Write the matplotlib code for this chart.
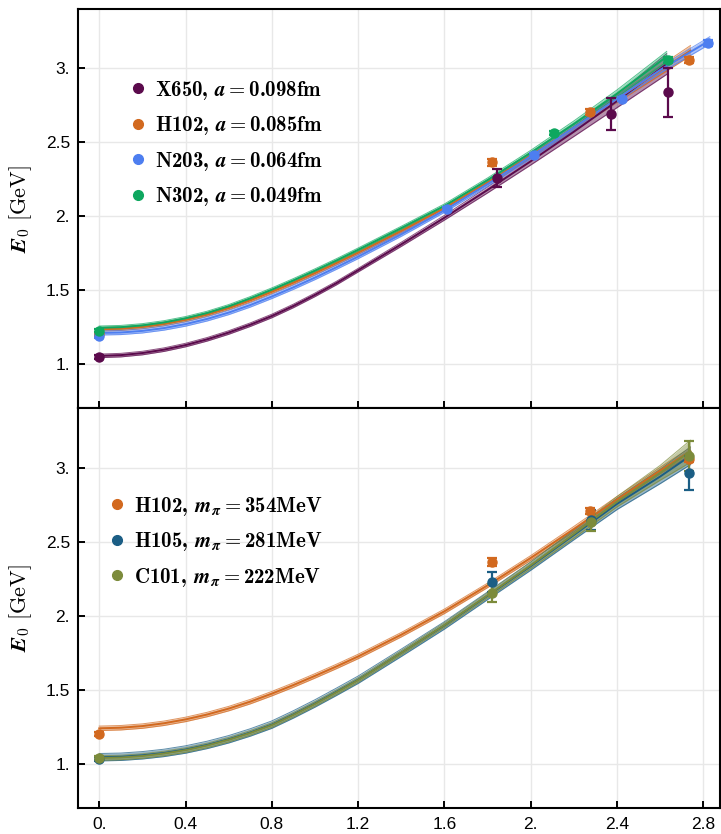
import matplotlib
matplotlib.use("Agg")
import matplotlib.pyplot as plt
from matplotlib.lines import Line2D
import numpy as np

plt.rcParams["font.family"] = ["Liberation Sans", "DejaVu Sans"]
plt.rcParams["mathtext.fontset"] = "cm"

# ---- axis ticks / labels ----
x_ticks = [0, 0.4, 0.8, 1.2, 1.6, 2.0, 2.4, 2.8]
x_tick_labels = ["0.", "0.4", "0.8", "1.2", "1.6", "2.", "2.4", "2.8"]
y_ticks = [1.0, 1.5, 2.0, 2.5, 3.0]
y_tick_labels = ["1.", "1.5", "2.", "2.5", "3."]

# ---- top panel: lattice spacing ----
top_labels = [r"X650, $\boldsymbol{a}=$0.098fm",
              r"H102, $\boldsymbol{a}=$0.085fm",
              r"N203, $\boldsymbol{a}=$0.064fm",
              r"N302, $\boldsymbol{a}=$0.049fm"]
top_colors = ["#5b0a4c", "#d2691f", "#4d7ef0", "#0ea75f"]

x650_x = [0.0, 1.845, 2.371, 2.635]
x650_y = [1.046, 2.26, 2.69, 2.84]
x650_err = [0.012, 0.06, 0.107, 0.166]
h102_x = [0.0, 1.822, 2.275, 2.732]
h102_y = [1.203, 2.364, 2.708, 3.056]
h102_err = [0.015, 0.025, 0.02, 0.02]
n203_x = [0.0, 1.614, 2.017, 2.422, 2.823]
n203_y = [1.19, 2.05, 2.416, 2.793, 3.175]
n203_err = [0.012, 0.01, 0.012, 0.015, 0.02]
n302_x = [0.0, 2.108, 2.635]
n302_y = [1.225, 2.562, 3.06]
n302_err = [0.01, 0.015, 0.02]

# fit bands (centre and half width)
fine_x = [0.0, 0.1, 0.2, 0.3, 0.4, 0.5, 0.6, 0.7, 0.8, 0.9, 1.0, 1.1, 1.2, 1.4, 1.6, 1.8, 2.0, 2.2, 2.4]

x650_fit_x = fine_x + [2.63]
x650_fit_y = [1.055, 1.060, 1.074, 1.097, 1.128, 1.167, 1.213, 1.266, 1.325, 1.393, 1.468, 1.548,
              1.635, 1.81, 1.99, 2.178, 2.372, 2.572, 2.78, 3.03]
x650_fit_w = [0.012] * 13 + [0.014, 0.016, 0.02, 0.025, 0.032, 0.045, 0.07]
h102_fit_x = fine_x + [2.74]
h102_fit_y = [1.235, 1.239, 1.251, 1.271, 1.299, 1.335, 1.379, 1.431, 1.489, 1.55, 1.615, 1.683,
              1.753, 1.90, 2.055, 2.228, 2.41, 2.60, 2.795, 3.12]
h102_fit_w = [0.012] * 13 + [0.012, 0.013, 0.014, 0.016, 0.02, 0.025, 0.035]
n203_fit_x = fine_x + [2.6, 2.83]
n203_fit_y = [1.21, 1.213, 1.224, 1.243, 1.27, 1.305, 1.348, 1.399, 1.457, 1.519, 1.585, 1.655,
              1.727, 1.878, 2.04, 2.218, 2.405, 2.6, 2.795, 2.99, 3.19]
n203_fit_w = [0.014] * 13 + [0.014, 0.014, 0.015, 0.016, 0.018, 0.02, 0.022, 0.025]
n302_fit_x = fine_x + [2.63]
n302_fit_y = [1.245, 1.249, 1.261, 1.281, 1.309, 1.345, 1.39, 1.444, 1.503, 1.566, 1.632, 1.701,
              1.773, 1.92, 2.07, 2.245, 2.43, 2.625, 2.83, 3.08]
n302_fit_w = [0.012] * 13 + [0.012, 0.013, 0.014, 0.016, 0.02, 0.025, 0.035]

# ---- bottom panel: pion mass ----
bot_labels = [r"H102, $\boldsymbol{m}_{\boldsymbol{\pi}}=$354MeV",
              r"H105, $\boldsymbol{m}_{\boldsymbol{\pi}}=$281MeV",
              r"C101, $\boldsymbol{m}_{\boldsymbol{\pi}}=$222MeV"]
bot_colors = ["#d2691f", "#1b5e85", "#7c8b3b"]

h105_x = [0.0, 1.822, 2.278, 2.732]
h105_y = [1.032, 2.228, 2.647, 2.962]
h105_err = [0.015, 0.065, 0.065, 0.115]
c101_x = [0.0, 1.822, 2.278, 2.732]
c101_y = [1.04, 2.153, 2.63, 3.079]
c101_err = [0.012, 0.06, 0.06, 0.10]

h102b_fit_x = fine_x + [2.6, 2.74]
h102b_fit_y = [1.24, 1.244, 1.255, 1.274, 1.30, 1.333, 1.373, 1.42, 1.474, 1.532, 1.594, 1.658,
               1.725, 1.872, 2.03, 2.205, 2.39, 2.585, 2.785, 2.98, 3.11]
h102b_fit_w = [0.015] * 13 + [0.015, 0.015, 0.015, 0.016, 0.018, 0.02, 0.022, 0.025]
h105_fit_x = fine_x + [2.6, 2.74]
h105_fit_y = [1.045, 1.048, 1.058, 1.074, 1.097, 1.128, 1.166, 1.212, 1.265, 1.334, 1.408, 1.487,
              1.568, 1.75, 1.935, 2.135, 2.335, 2.545, 2.755, 2.94, 3.08]
h105_fit_w = [0.025] * 13 + [0.025, 0.025, 0.026, 0.028, 0.032, 0.038, 0.048, 0.06]
c101_fit_x = fine_x + [2.6, 2.74]
c101_fit_y = [1.04, 1.043, 1.053, 1.07, 1.093, 1.124, 1.163, 1.209, 1.262, 1.331, 1.405, 1.484,
              1.566, 1.75, 1.937, 2.138, 2.34, 2.552, 2.77, 2.965, 3.11]
c101_fit_w = [0.015] * 13 + [0.015, 0.016, 0.018, 0.022, 0.028, 0.035, 0.05, 0.075]

XLIM = (-0.097, 2.875)
YLIM = (0.70, 3.40)


def draw_band(ax, fx, fy, fw, color):
    fx = np.asarray(fx)
    fy = np.asarray(fy)
    fw = np.asarray(fw)
    ax.fill_between(fx, fy - fw, fy + fw, color=color, alpha=0.45, lw=0, zorder=2)
    ax.plot(fx, fy - fw, color=color, lw=0.7, alpha=0.7, zorder=2)
    ax.plot(fx, fy + fw, color=color, lw=0.7, alpha=0.7, zorder=2)
    ax.plot(fx, fy, color=color, lw=1.4, zorder=3)


def draw_points(ax, x, y, err, color):
    ax.errorbar(x, y, yerr=err, fmt="o", color=color, ms=6.5, elinewidth=1.6,
                capsize=3.5, capthick=1.6, zorder=4)


def style_axis(ax):
    ax.set_xlim(*XLIM)
    ax.set_ylim(*YLIM)
    ax.set_xticks(x_ticks)
    ax.set_yticks(y_ticks)
    ax.set_yticklabels(y_tick_labels)
    ax.grid(True, color="#e8e8e8", lw=1.0, zorder=0)
    ax.set_axisbelow(True)
    ax.tick_params(direction="in", length=5, width=1.4, labelsize=12.5, pad=6,
                   top=False, right=False)
    for s in ax.spines.values():
        s.set_linewidth(1.5)
    ax.set_ylabel(r"$\boldsymbol{E}_0\ [\mathrm{GeV}]$", fontsize=16)
    ax.yaxis.set_label_coords(-0.069, 0.5)


fig = plt.figure(figsize=(7.21, 8.34), dpi=100)
ax1 = fig.add_axes([0.1086, 0.5104, 0.8894, 0.4784])
ax2 = fig.add_axes([0.1086, 0.0308, 0.8894, 0.4796])

leg_kw = dict(loc="upper left", frameon=False, prop={"family": "cmb10", "size": 15},
              handlelength=0.8, handletextpad=0.42, labelspacing=0.6, borderpad=0,
              borderaxespad=0)

# top panel
top_fits = [(x650_fit_x, x650_fit_y, x650_fit_w), (h102_fit_x, h102_fit_y, h102_fit_w),
            (n203_fit_x, n203_fit_y, n203_fit_w), (n302_fit_x, n302_fit_y, n302_fit_w)]
top_pts = [(x650_x, x650_y, x650_err), (h102_x, h102_y, h102_err),
           (n203_x, n203_y, n203_err), (n302_x, n302_y, n302_err)]
for (fx, fy, fw), c in zip(top_fits, top_colors):
    draw_band(ax1, fx, fy, fw, c)
for (px, py, pe), c in zip(top_pts, top_colors):
    draw_points(ax1, px, py, pe, c)
style_axis(ax1)
ax1.set_xticklabels([])
handles = [Line2D([], [], ls="none", marker="o", ms=7, color=c) for c in top_colors]
ax1.legend(handles, top_labels, bbox_to_anchor=(0.080, 0.8266), **leg_kw)

# bottom panel
bot_fits = [(h102b_fit_x, h102b_fit_y, h102b_fit_w), (h105_fit_x, h105_fit_y, h105_fit_w),
            (c101_fit_x, c101_fit_y, c101_fit_w)]
bot_pts = [(h102_x, h102_y, h102_err), (h105_x, h105_y, h105_err), (c101_x, c101_y, c101_err)]
for (fx, fy, fw), c in zip(bot_fits, bot_colors):
    draw_band(ax2, fx, fy, fw, c)
for (px, py, pe), c in zip(bot_pts, bot_colors):
    draw_points(ax2, px, py, pe, c)
style_axis(ax2)
ax2.set_xticklabels(x_tick_labels)
handles = [Line2D([], [], ls="none", marker="o", ms=7, color=c) for c in bot_colors]
ax2.legend(handles, bot_labels, bbox_to_anchor=(0.0474, 0.7845), **leg_kw)

fig.savefig("out.png", dpi=100)
